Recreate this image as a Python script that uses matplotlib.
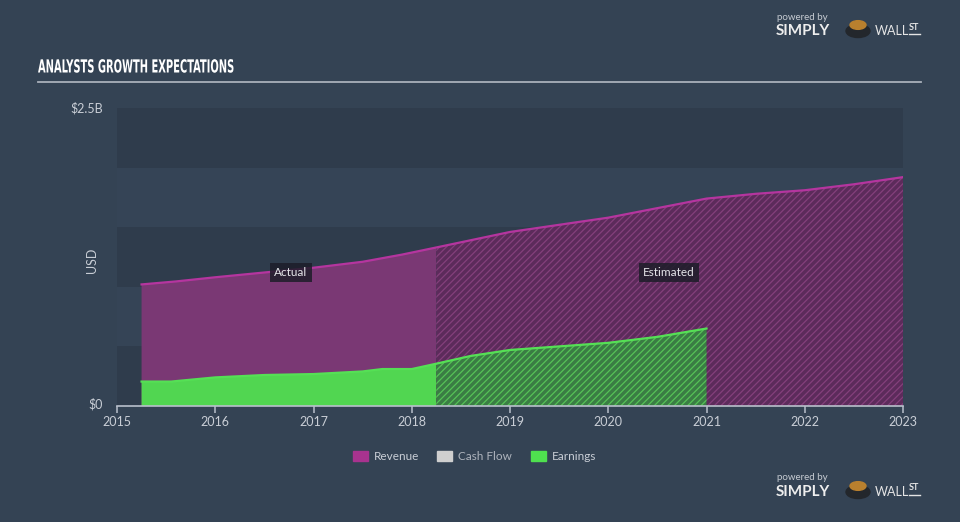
import numpy as np
import matplotlib
matplotlib.use("Agg")
import matplotlib.pyplot as plt
from matplotlib.patches import Rectangle, Circle
from matplotlib.patheffects import AbstractPathEffect
from matplotlib.transforms import Affine2D

# =============================
# DATA (USD billions)
# =============================
rev_actual_x = [2015.25, 2015.6, 2016.0, 2016.5, 2017.0, 2017.5, 2017.9, 2018.25]
rev_actual_y = [1.02, 1.045, 1.08, 1.12, 1.16, 1.21, 1.27, 1.33]

rev_est_x = [2018.25, 2019.0, 2019.5, 2020.0, 2020.5, 2021.0, 2021.5, 2022.0, 2022.5, 2023.0]
rev_est_y = [1.33, 1.46, 1.52, 1.58, 1.66, 1.74, 1.78, 1.81, 1.86, 1.92]

earn_actual_x = [2015.25, 2015.55, 2016.0, 2016.5, 2017.0, 2017.5, 2017.7, 2018.0, 2018.25]
earn_actual_y = [0.205, 0.205, 0.24, 0.26, 0.268, 0.29, 0.31, 0.31, 0.355]

earn_est_x = [2018.25, 2018.6, 2019.0, 2019.5, 2020.0, 2020.5, 2021.0]
earn_est_y = [0.355, 0.42, 0.47, 0.50, 0.53, 0.58, 0.65]

year_ticks = [2015, 2016, 2017, 2018, 2019, 2020, 2021, 2022, 2023]
legend_names = ["Revenue", "Cash Flow", "Earnings"]
legend_colors = ["#a8338f", "#cfcfcf", "#4fe04f"]

# =============================
# STYLE
# =============================
BG = "#344354"
BAND_DARK = "#2f3c4c"
BAND_LIGHT = "#354456"
TXT = "#c9ced6"
plt.rcParams["hatch.linewidth"] = 0.9
plt.rcParams["font.family"] = ["Lato", "DejaVu Sans"]

W, H = 960, 522
fig = plt.figure(figsize=(W / 100, H / 100), dpi=100)
fig.patch.set_facecolor(BG)

def fx(px):
    return px / W

def fy(py):
    return 1 - py / H


class SquashX(AbstractPathEffect):
    # narrows the drawn glyphs horizontally around a fixed pixel x
    def __init__(self, x0, sx):
        super().__init__()
        self.x0 = x0
        self.sx = sx

    def draw_path(self, renderer, gc, tpath, affine, rgbFace=None):
        squash = Affine2D().translate(-self.x0, 0).scale(self.sx, 1).translate(self.x0, 0)
        renderer.draw_path(gc, tpath, affine + squash, rgbFace)


ax = fig.add_axes([fx(117), fy(406), fx(903) - fx(117), fy(108) - fy(406)])
ax.set_facecolor(BG)
ax.set_xlim(2015, 2023)
ax.set_ylim(0, 2.5)

# alternating background bands
for i, lo in enumerate(np.arange(0, 2.5, 0.5)):
    ax.axhspan(lo, lo + 0.5, color=BAND_DARK if i % 2 == 0 else BAND_LIGHT, lw=0, zorder=0)

# =============================
# AREAS
# =============================
ax.fill_between(rev_actual_x, 0, rev_actual_y, facecolor="#7a3874", lw=0, zorder=1)
ax.fill_between(rev_est_x, 0, rev_est_y, facecolor="#5c2b5b", edgecolor="#84407c",
                hatch="/////", lw=0, zorder=1)
ax.plot(rev_actual_x + rev_est_x[1:], rev_actual_y + rev_est_y[1:], color="#b5359f", lw=1.6, zorder=3)

ax.fill_between(earn_actual_x, 0, earn_actual_y, facecolor="#51d651", lw=0, zorder=2)
ax.fill_between(earn_est_x, 0, earn_est_y, facecolor="#3a7d44", edgecolor="#56c257",
                hatch="/////", lw=0, zorder=2)
ax.plot(earn_actual_x + earn_est_x[1:], earn_actual_y + earn_est_y[1:], color="#55e055", lw=1.6, zorder=3)

# labels
box = dict(boxstyle="square,pad=0.35", facecolor="#1d1d29", edgecolor="none", alpha=0.85)
ax.text(2016.77, 1.12, "Actual", color="#e6e6ea", fontsize=8.5, ha="center", va="center", bbox=box, zorder=5)
ax.text(2020.62, 1.12, "Estimated", color="#e6e6ea", fontsize=8.5, ha="center", va="center", bbox=box, zorder=5)

# =============================
# AXES
# =============================
for s in ["top", "right", "left"]:
    ax.spines[s].set_visible(False)
ax.spines["bottom"].set_color("#b9c0cc")
ax.spines["bottom"].set_linewidth(1.2)
ax.set_xticks(year_ticks)
ax.set_xticklabels([str(y) for y in year_ticks])
ax.tick_params(axis="x", colors="#b9c0cc", length=5, width=1.1, labelsize=9, labelcolor=TXT, pad=2)
ax.set_yticks([])

fig.text(fx(103), fy(108), "$2.5B", color=TXT, fontsize=9, ha="right", va="center")
fig.text(fx(103), fy(404), "$0", color=TXT, fontsize=9, ha="right", va="center")
fig.text(fx(92), fy(260), "USD", color=TXT, fontsize=9, rotation=90, ha="center", va="center")

# =============================
# TITLE
# =============================
title_font = dict(color="white", fontsize=13, fontweight="bold", family="DejaVu Sans",
                  fontstretch="condensed", va="center",
                  path_effects=[SquashX(38, 0.61)])
fig.text(fx(38), fy(67.5), "ANALYSTS GROWTH EXPECTATIONS", **title_font)
fig.add_artist(plt.Line2D([fx(38), fx(921)], [fy(81.5), fy(81.5)], color="#a9b0ba", lw=1.3))
fig.text(fx(38), fy(531), "ANALYSTS GROWTH EXPECTATIONS", **title_font)

# =============================
# LEGEND
# =============================
leg_x = [353, 437, 531]
for name, col, lx in zip(legend_names, legend_colors, leg_x):
    fig.add_artist(Rectangle((fx(lx), fy(461)), fx(15), fy(451) - fy(461), color=col, transform=fig.transFigure))
    fig.text(fx(lx + 21), fy(456), name, color=TXT if name != "Cash Flow" else "#aeb4bd",
             fontsize=8.5, va="center")

# =============================
# LOGOS
# =============================
def logo(y0):
    fig.text(fx(777), fy(y0), "powered by", color="#c6cbd2", fontsize=7, va="center")
    fig.text(fx(776), fy(y0 + 14), "SIMPLY", color="#eeeeee", fontsize=11, fontweight="bold", va="center")
    fig.add_artist(Circle((fx(858), fy(y0 + 14)), 12 / W, color="#23272c", transform=fig.transFigure))
    fig.add_artist(Circle((fx(858), fy(y0 + 8)), 8 / W, color="#b9802e", transform=fig.transFigure))
    fig.text(fx(875), fy(y0 + 14), "WALL", color="#e5e5e5", fontsize=9, va="center")
    fig.text(fx(909), fy(y0 + 10), "ST", color="#e5e5e5", fontsize=6.5, fontweight="bold", va="center")
    fig.add_artist(plt.Line2D([fx(909), fx(920)], [fy(y0 + 17), fy(y0 + 17)], color="#e5e5e5", lw=1))

logo(17)
logo(478)

plt.savefig("out.png", dpi=100, facecolor=BG)
